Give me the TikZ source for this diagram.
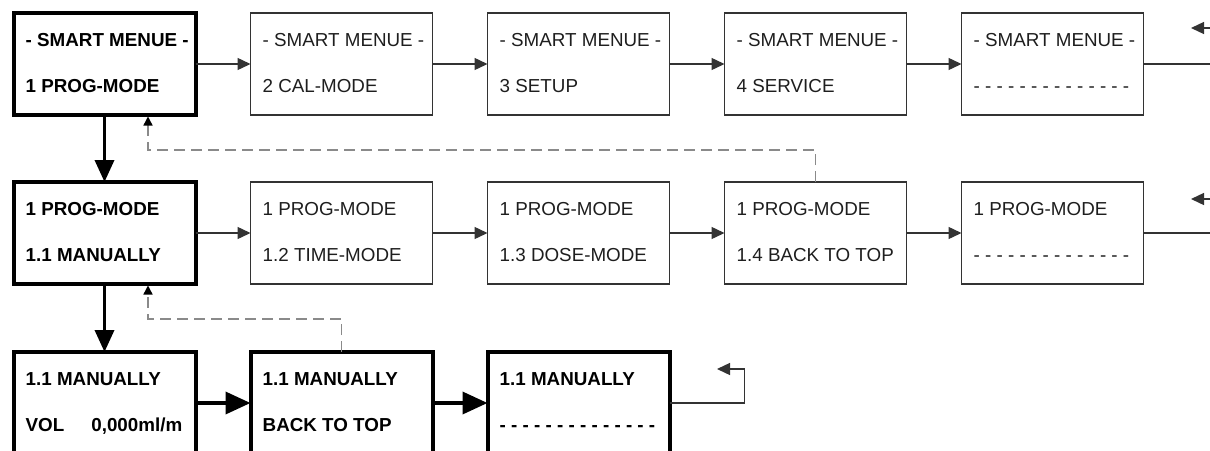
\documentclass[tikz,border=0pt]{standalone}
\usepackage{fontspec}
\setmainfont{Liberation Sans}
\usetikzlibrary{arrows.meta,calc}
\definecolor{ink}{HTML}{1E1E1E}
\definecolor{frame}{HTML}{333333}
\definecolor{dashgray}{HTML}{8A8A8A}
\tikzset{
  box/.style={draw=frame, minimum width=182pt, minimum height=102pt, inner sep=0pt, outer sep=0pt},
  thinbox/.style={box, line width=1.4pt},
  thickbox/.style={box, draw=black, line width=4pt},
  thintxt/.style={inner sep=0pt, anchor=base west, text=ink, font=\fontsize{18.8}{22}\selectfont},
  thicktxt/.style={thintxt, text=black, font=\fontsize{18.8}{22}\selectfont\bfseries},
  flow/.style={draw=frame, line width=1.4pt, -{Triangle[length=13pt,width=12pt]}},
  mainflow/.style={draw=black, line width=3.6pt, -{Triangle[length=22pt,width=19pt]}},
  sideflow/.style={mainflow, -{Triangle[length=25pt,width=22pt]}},
  back/.style={draw=dashgray, line width=1.4pt, dash pattern=on 11pt off 6pt,
    shorten >=1.5pt, -{Triangle[length=9pt,width=9pt,color=black]}},
}
% one menu screen: name, centre x, centre y, weight (thin/thick), first line, second line
\newcommand\menubox[6]{%
  \node[#4box] (#1) at (#2,#3) {};
  \node[#4txt] (#1-a) at ($(#1.north west)+(12,33)$) {#5};
  \node[#4txt] (#1-b) at ($(#1.north west)+(12,79)$) {#6};
}
\newcommand\blankline{- - - - - - - - - - - - - -}
\begin{document}
\begin{tikzpicture}[x=1pt,y=-1pt]
\useasboundingbox (0,0) rectangle (1210,450);
\fill[white] (0,0) rectangle (1210,450);
\clip (0,0) rectangle (1210,450);

% top level
\menubox{s1}{104.5}{64}{thick}{- SMART MENUE -}{1 PROG-MODE}
\menubox{s2}{341.5}{64}{thin}{- SMART MENUE -}{2 CAL-MODE}
\menubox{s3}{578.5}{64}{thin}{- SMART MENUE -}{3 SETUP}
\menubox{s4}{815.5}{64}{thin}{- SMART MENUE -}{4 SERVICE}
\menubox{s5}{1052.5}{64}{thin}{- SMART MENUE -}{\blankline}

% program mode
\menubox{p1}{104.5}{233}{thick}{1 PROG-MODE}{1.1 MANUALLY}
\menubox{p2}{341.5}{233}{thin}{1 PROG-MODE}{1.2 TIME-MODE}
\menubox{p3}{578.5}{233}{thin}{1 PROG-MODE}{1.3 DOSE-MODE}
\menubox{p4}{815.5}{233}{thin}{1 PROG-MODE}{1.4 BACK TO TOP}
\menubox{p5}{1052.5}{233}{thin}{1 PROG-MODE}{\blankline}

% manual mode
\menubox{m1}{104.5}{403}{thick}{1.1 MANUALLY}{VOL\hspace{27pt}0,000ml/m}
\menubox{m2}{341.5}{403}{thick}{1.1 MANUALLY}{BACK TO TOP}
\menubox{m3}{578.5}{403}{thick}{1.1 MANUALLY}{\blankline}

% stepping through each level
\draw[flow] (s1) -- (s2);
\draw[flow] (s2) -- (s3);
\draw[flow] (s3) -- (s4);
\draw[flow] (s4) -- (s5);
\draw[flow] (p1) -- (p2);
\draw[flow] (p2) -- (p3);
\draw[flow] (p3) -- (p4);
\draw[flow] (p4) -- (p5);
\draw[sideflow] (m1) -- (m2);
\draw[sideflow] (m2) -- (m3);

% entering a sub menu
\draw[mainflow] (s1) -- (p1);
\draw[mainflow] (p1) -- (m1);

% wrap-around at the end of each level
\coordinate (r1) at (1191,28);
\coordinate (r2) at (1191,199);
\coordinate (r3) at (717,369);
\draw[flow] (s5.east) -- ++(90,0) |- (r1);
\draw[flow] (p5.east) -- ++(90,0) |- (r2);
\draw[flow] (m3.east) -- ++(75,0) |- (r3);

% back to top
\coordinate (k1) at (148,150);
\coordinate (k2) at (148,319);
\draw[back] (p4.north) |- (k1) -- (k1 |- s1.south);
\draw[back] (m2.north) |- (k2) -- (k2 |- p1.south);
\end{tikzpicture}
\end{document}
